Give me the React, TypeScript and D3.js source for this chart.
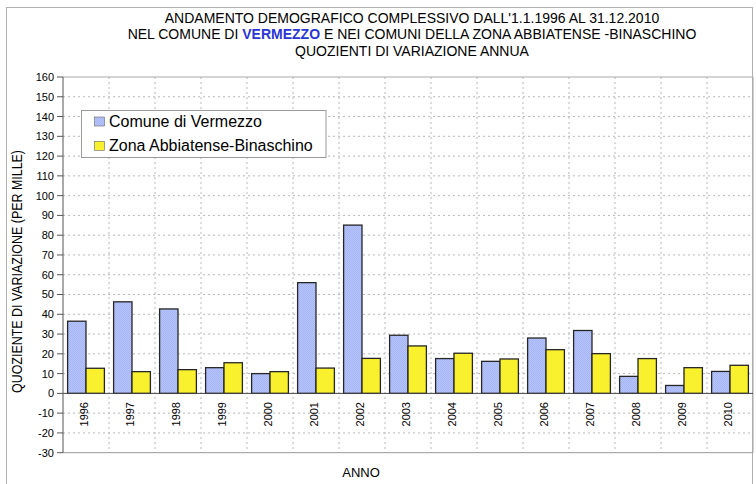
import React from "react";
import * as d3 from "d3";

const years = ["1996","1997","1998","1999","2000","2001","2002","2003","2004","2005","2006","2007","2008","2009","2010"];
const vermezzo = [36.5, 46.3, 42.7, 13.0, 10.0, 56.0, 85.1, 29.4, 17.6, 16.2, 28.0, 31.8, 8.6, 4.0, 11.1];
const abbiatense = [12.7, 11.0, 12.0, 15.5, 11.0, 12.8, 17.7, 24.0, 20.3, 17.4, 22.1, 20.1, 17.6, 13.0, 14.2];
const seriesNames = ["Comune di Vermezzo", "Zona Abbiatense-Binaschino"];
const yTicks = d3.range(-30, 161, 10);

const W = 756, H = 484;
const L = 63, R = 753, T = 77, B = 452.7;
const FONT = "'Liberation Sans', Arial, Helvetica, sans-serif";

export default function App() {
  const x = d3.scaleBand<string>().domain(years).range([L, R]).paddingInner(0.2).paddingOuter(0.1);
  const xs = d3.scaleBand<string>().domain(["a", "b"]).range([0, x.bandwidth()]);
  const y = d3.scaleLinear().domain([-30, 160]).range([B, T]);
  const step = x.step();
  const boundaries = years.slice(1).map((yr) => (x(yr) as number) - step * 0.1);
  const series = [
    { key: "a", values: vermezzo, fill: "url(#bluePat)" },
    { key: "b", values: abbiatense, fill: "#f9f02e" },
  ];
  return (
    <svg width={W} height={H} style={{ position: "absolute", left: 0, top: 0, background: "#fff" }} fontFamily={FONT}>
      <defs>
        <pattern id="bluePat" width="2" height="2" patternUnits="userSpaceOnUse">
          <rect width="2" height="2" fill="#b8c5fa" />
          <rect width="1" height="1" fill="#a4b4f4" />
          <rect x="1" y="1" width="1" height="1" fill="#a4b4f4" />
        </pattern>
      </defs>
      <rect x={6.5} y={7.5} width={746} height={490} fill="#fff" stroke="#b0b0b0" />
      {/* Title */}
      <g textAnchor="middle" fontSize={14} fill="#000">
        <text x={412} y={22.7}>ANDAMENTO DEMOGRAFICO COMPLESSIVO DALL'1.1.1996 AL 31.12.2010</text>
        <text x={412} y={39.3}>
          NEL COMUNE DI <tspan fill="#2a35d6" fontWeight="bold">VERMEZZO</tspan> E NEI COMUNI DELLA ZONA ABBIATENSE -BINASCHINO
        </text>
        <text x={412} y={55.5}>QUOZIENTI DI VARIAZIONE ANNUA</text>
      </g>
      {/* Grid */}
      <g stroke="#b8b8b8" strokeDasharray="2,3" strokeWidth={1}>
        {yTicks.filter((t) => t !== 0 && t !== 160 && t !== -30).map((t) => (
          <line key={t} x1={L} x2={R} y1={y(t)} y2={y(t)} />
        ))}
        {boundaries.map((bx, i) => (
          <line key={i} x1={bx} x2={bx} y1={T} y2={B} />
        ))}
      </g>
      {/* Frame */}
      <line x1={L} x2={R} y1={T} y2={T} stroke="#a8a8a8" />
      <line x1={R} x2={R} y1={T} y2={B} stroke="#a8a8a8" />
      <line x1={L} x2={R} y1={B} y2={B} stroke="#999" />
      {/* Bars */}
      {series.map((s) => (
        <g key={s.key}>
          {s.values.map((v, i) => {
            const bx = (x(years[i]) as number) + (xs(s.key) as number);
            const y0 = y(0), y1 = y(v);
            return (
              <rect key={i} x={bx} y={Math.min(y0, y1)} width={xs.bandwidth()} height={Math.abs(y0 - y1)}
                fill={s.fill} stroke="#262626" strokeWidth={1.3} />
            );
          })}
        </g>
      ))}
      {/* Zero line */}
      <line x1={L} x2={R} y1={y(0)} y2={y(0)} stroke="#444" strokeWidth={1} />
      {/* Y axis */}
      <line x1={L} x2={L} y1={T} y2={B} stroke="#555" />
      <g fontSize={11} textAnchor="end" fill="#000">
        {yTicks.map((t) => (
          <g key={t}>
            <line x1={57} x2={L} y1={y(t)} y2={y(t)} stroke="#555" />
            <text x={54} y={y(t)} dy="0.36em">{t}</text>
          </g>
        ))}
      </g>
      {/* X labels */}
      <g fontSize={11} textAnchor="end" fill="#000">
        {years.map((yr) => (
          <text key={yr} transform={`translate(${(x(yr) as number) + x.bandwidth() / 2 + 2},402) rotate(-90)`}>{yr}</text>
        ))}
      </g>
      {/* Axis titles */}
      <text transform="translate(21.7,271.5) rotate(-90)" textAnchor="middle" fontSize={14} textLength={243} lengthAdjust="spacingAndGlyphs">QUOZIENTE DI VARIAZIONE (PER MILLE)</text>
      <text x={361} y={476.7} textAnchor="middle" fontSize={13}>ANNO</text>
      {/* Legend */}
      <g>
        <rect x={81.5} y={110.5} width={244.5} height={47} fill="#fff" stroke="#9a9a9a" />
        {seriesNames.map((n, i) => (
          <g key={n} transform={`translate(0,${i * 24.3})`}>
            <rect x={94.5} y={117} width={10} height={9} fill={series[i].fill} stroke="#666" strokeWidth={0.6} />
            <text x={109} y={126.8} fontSize={16}>{n}</text>
          </g>
        ))}
      </g>
    </svg>
  );
}
